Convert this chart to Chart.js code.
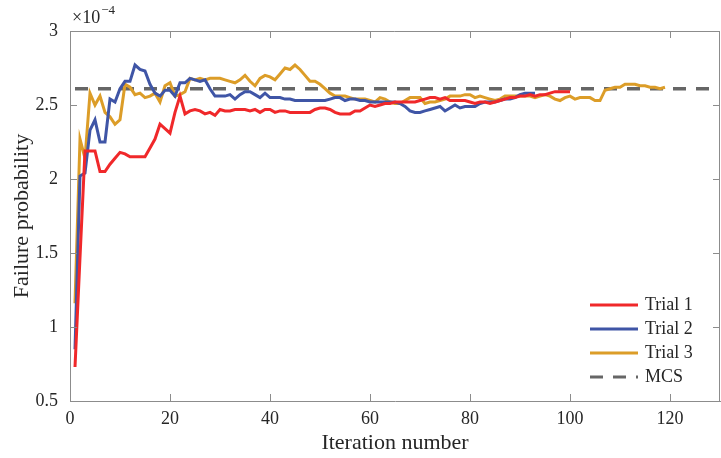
<!DOCTYPE html>
<html>
<head>
<meta charset="utf-8">
<script src="https://cdn.jsdelivr.net/npm/chart.js@4"></script>
<style>
  html, body { margin: 0; padding: 0; background: #fff; }
  canvas { display: block; }
</style>
</head>
<body>
<canvas id="chart" width="721" height="458"></canvas>
<script>
// failure probability estimates (x 1e-4), one value per iteration starting at 1
const trial1 = [
  0.73, 1.47, 2.19, 2.19, 2.19, 2.05, 2.05, 2.10, 2.14, 2.18,
  2.17, 2.15, 2.15, 2.15, 2.15, 2.21, 2.27, 2.37, 2.34, 2.31,
  2.45, 2.56, 2.44, 2.46, 2.47, 2.46, 2.44, 2.45, 2.43, 2.47,
  2.46, 2.46, 2.47, 2.47, 2.47, 2.46, 2.47, 2.45, 2.47, 2.47,
  2.45, 2.46, 2.46, 2.45, 2.45, 2.45, 2.45, 2.45, 2.47, 2.48,
  2.48, 2.47, 2.45, 2.44, 2.44, 2.44, 2.46, 2.46, 2.48, 2.50,
  2.49, 2.50, 2.51, 2.51, 2.52, 2.52, 2.52, 2.52, 2.52, 2.53,
  2.54, 2.55, 2.55, 2.54, 2.55, 2.53, 2.53, 2.53, 2.53, 2.52,
  2.51, 2.52, 2.52, 2.51, 2.52, 2.53, 2.54, 2.55, 2.55, 2.56,
  2.56, 2.57, 2.56, 2.57, 2.57, 2.58, 2.59, 2.59, 2.59, 2.59
];
const trial2 = [
  0.85, 2.02, 2.04, 2.33, 2.40, 2.25, 2.25, 2.54, 2.52, 2.61,
  2.66, 2.66, 2.77, 2.74, 2.73, 2.64, 2.58, 2.56, 2.60, 2.60,
  2.56, 2.65, 2.65, 2.68, 2.67, 2.66, 2.67, 2.61, 2.56, 2.56,
  2.56, 2.57, 2.54, 2.57, 2.59, 2.59, 2.57, 2.55, 2.58, 2.55,
  2.55, 2.55, 2.54, 2.54, 2.53, 2.53, 2.53, 2.53, 2.53, 2.53,
  2.53, 2.54, 2.55, 2.55, 2.53, 2.54, 2.54, 2.53, 2.53, 2.52,
  2.52, 2.52, 2.52, 2.52, 2.52, 2.51, 2.49, 2.46, 2.45, 2.45,
  2.46, 2.47, 2.48, 2.49, 2.46, 2.48, 2.50, 2.48, 2.49, 2.49,
  2.49, 2.51, 2.52, 2.52, 2.52, 2.53, 2.54, 2.54, 2.55, 2.57,
  2.58, 2.58, 2.58
];
const trial3 = [
  1.16, 2.27, 2.14, 2.58, 2.50, 2.56, 2.45, 2.42, 2.37, 2.40,
  2.64, 2.62, 2.57, 2.58, 2.55, 2.56, 2.58, 2.52, 2.63, 2.65,
  2.56, 2.57, 2.59, 2.68, 2.67, 2.68, 2.67, 2.68, 2.68, 2.68,
  2.67, 2.66, 2.65, 2.67, 2.70, 2.66, 2.63, 2.68, 2.70, 2.69,
  2.67, 2.71, 2.75, 2.74, 2.77, 2.74, 2.70, 2.66, 2.66, 2.64,
  2.61, 2.58, 2.56, 2.56, 2.56, 2.55, 2.54, 2.54, 2.54, 2.53,
  2.52, 2.55, 2.54, 2.52, 2.51, 2.51, 2.53, 2.55, 2.55, 2.55,
  2.51, 2.52, 2.52, 2.53, 2.54, 2.56, 2.56, 2.56, 2.57, 2.57,
  2.55, 2.56, 2.55, 2.54, 2.53, 2.54, 2.56, 2.56, 2.56, 2.56,
  2.56, 2.56, 2.55, 2.56, 2.57, 2.56, 2.54, 2.53, 2.55, 2.56,
  2.54, 2.55, 2.55, 2.55, 2.53, 2.53, 2.60, 2.61, 2.62, 2.62,
  2.64, 2.64, 2.64, 2.63, 2.63, 2.62, 2.62, 2.61, 2.62
];
const mcsValue = 2.61;
const mcsRange = [1, 130];

const xTicks = [0, 20, 40, 60, 80, 100, 120];
const yTicks = [0.5, 1, 1.5, 2, 2.5, 3];

const seriesNames = ['Trial 1', 'Trial 2', 'Trial 3', 'MCS'];
const seriesColors = ['#f0282a', '#3f55a6', '#dc9d28', '#666666'];

const FONT = "'Liberation Serif', 'Times New Roman', serif";
const AXIS_COLOR = '#8c8c8c';
const TEXT_COLOR = '#262626';

const toPoints = arr => arr.map((v, i) => ({ x: i + 1, y: v }));

// inward ticks, top/right box lines, exponent and legend
const decorations = {
  id: 'decorations',
  afterDraw(chart) {
    const ctx = chart.ctx;
    const { left, right, top, bottom } = chart.chartArea;
    const xs = chart.scales.x, ys = chart.scales.y;
    const len = 7;
    ctx.save();
    ctx.strokeStyle = AXIS_COLOR;
    ctx.lineWidth = 1;
    ctx.beginPath();
    ctx.moveTo(left, top + 0.5);
    ctx.lineTo(right - 0.5, top + 0.5);
    ctx.lineTo(right - 0.5, bottom);
    xTicks.forEach(t => {
      const px = Math.round(xs.getPixelForValue(t)) + 0.5;
      ctx.moveTo(px, bottom); ctx.lineTo(px, bottom - len);
      ctx.moveTo(px, top); ctx.lineTo(px, top + len);
    });
    yTicks.forEach(t => {
      const py = Math.round(ys.getPixelForValue(t)) + 0.5;
      ctx.moveTo(left, py); ctx.lineTo(left + len, py);
      ctx.moveTo(right, py); ctx.lineTo(right - len, py);
    });
    ctx.stroke();

    // exponent
    ctx.fillStyle = TEXT_COLOR;
    ctx.textBaseline = 'alphabetic';
    ctx.textAlign = 'left';
    ctx.font = '18px ' + FONT;
    ctx.fillText('\u00d710', left + 2, top - 8);
    const w = ctx.measureText('\u00d710').width;
    ctx.font = '13px ' + FONT;
    ctx.fillText('\u22124', left + 3 + w, top - 17);

    // legend
    const lx = 590, ly = 305, step = 24;
    seriesNames.forEach((name, i) => {
      const y = ly + i * step;
      ctx.strokeStyle = seriesColors[i];
      ctx.lineWidth = 3;
      if (i === 3) ctx.setLineDash([13, 10]); else ctx.setLineDash([]);
      ctx.beginPath();
      ctx.moveTo(lx, y);
      ctx.lineTo(lx + 48, y);
      ctx.stroke();
      ctx.setLineDash([]);
      ctx.fillStyle = TEXT_COLOR;
      ctx.font = '18px ' + FONT;
      ctx.textBaseline = 'middle';
      ctx.fillText(name, lx + 55, y);
    });
    ctx.restore();
  }
};

new Chart(document.getElementById('chart'), {
  type: 'line',
  data: {
    datasets: [
      { label: seriesNames[0], data: toPoints(trial1), borderColor: seriesColors[0], borderWidth: 3 },
      { label: seriesNames[1], data: toPoints(trial2), borderColor: seriesColors[1], borderWidth: 3 },
      { label: seriesNames[2], data: toPoints(trial3), borderColor: seriesColors[2], borderWidth: 3 },
      {
        label: seriesNames[3],
        data: mcsRange.map(x => ({ x: x, y: mcsValue })),
        borderColor: seriesColors[3], borderWidth: 3.5, borderDash: [13, 10]
      }
    ]
  },
  options: {
    responsive: false,
    animation: false,
    elements: { point: { radius: 0 }, line: { tension: 0 } },
    layout: { padding: { left: 0, right: 1, top: 31, bottom: 0 } },
    plugins: { legend: { display: false }, tooltip: { enabled: false } },
    scales: {
      x: {
        type: 'linear', min: 0, max: 130,
        afterBuildTicks: s => { s.ticks = xTicks.map(v => ({ value: v })); },
        afterFit: s => { s.height = 57; },
        grid: { display: false, drawTicks: false },
        border: { color: AXIS_COLOR, width: 1 },
        ticks: { padding: 7, color: TEXT_COLOR, font: { family: FONT, size: 18 }, maxRotation: 0 },
        title: {
          display: true, text: 'Iteration number', color: TEXT_COLOR,
          font: { family: FONT, size: 22 }, padding: { top: 2, bottom: 2 }
        }
      },
      y: {
        type: 'linear', min: 0.5, max: 3,
        afterBuildTicks: s => { s.ticks = yTicks.map(v => ({ value: v })); },
        afterFit: s => { s.width = 70; },
        grid: { display: false, drawTicks: false },
        border: { color: AXIS_COLOR, width: 1 },
        ticks: { padding: 12, color: TEXT_COLOR, font: { family: FONT, size: 18 }, callback: v => String(v) },
        title: {
          display: true, text: 'Failure probability', color: TEXT_COLOR,
          font: { family: FONT, size: 22 }, padding: { top: 9, bottom: 9 }
        }
      }
    }
  },
  plugins: [decorations]
});
</script>
</body>
</html>
